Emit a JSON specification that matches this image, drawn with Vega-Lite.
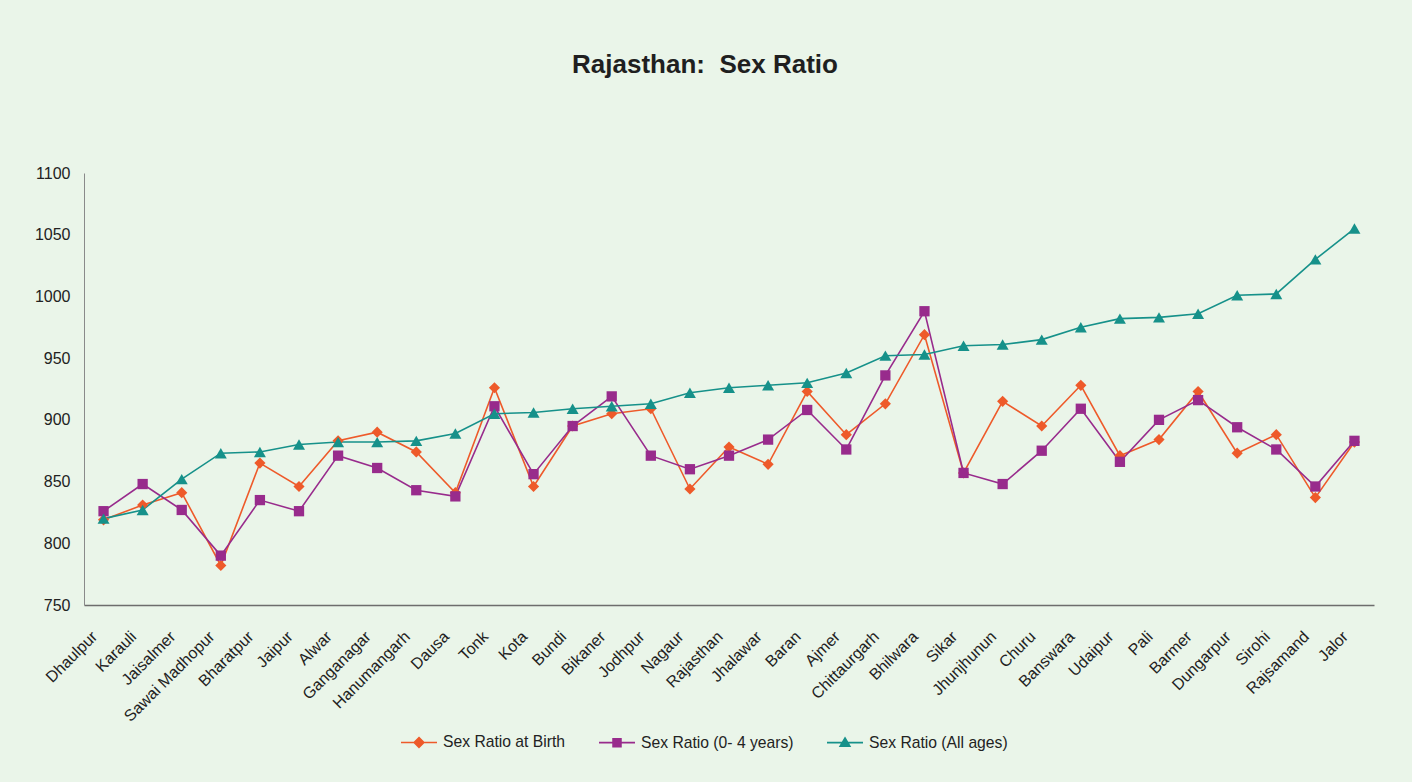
{
  "$schema": "https://vega.github.io/schema/vega-lite/v6.json",
  "width": 1290,
  "height": 432,
  "autosize": "none",
  "padding": {"left": 84, "top": 173, "right": 38, "bottom": 177},
  "background": "#EAF5E9",
  "config": {"view": {"stroke": null}, "font": "Liberation Sans"},
  "title": {
    "text": "Rajasthan:\u00a0 Sex Ratio",
    "fontSize": 26,
    "font": "Liberation Sans",
    "fontWeight": "bold",
    "color": "#1f1f1f",
    "anchor": "middle",
    "dx": -24,
    "offset": 66,
    "baseline": "alphabetic"
  },
  "data": {
    "values": [
      {"district": "Dhaulpur", "Sex Ratio at Birth": 819, "Sex Ratio (0- 4 years)": 826, "Sex Ratio (All ages)": 820},
      {"district": "Karauli", "Sex Ratio at Birth": 831, "Sex Ratio (0- 4 years)": 848, "Sex Ratio (All ages)": 827},
      {"district": "Jaisalmer", "Sex Ratio at Birth": 841, "Sex Ratio (0- 4 years)": 827, "Sex Ratio (All ages)": 852},
      {"district": "Sawai Madhopur", "Sex Ratio at Birth": 782, "Sex Ratio (0- 4 years)": 790, "Sex Ratio (All ages)": 873},
      {"district": "Bharatpur", "Sex Ratio at Birth": 865, "Sex Ratio (0- 4 years)": 835, "Sex Ratio (All ages)": 874},
      {"district": "Jaipur", "Sex Ratio at Birth": 846, "Sex Ratio (0- 4 years)": 826, "Sex Ratio (All ages)": 880},
      {"district": "Alwar", "Sex Ratio at Birth": 883, "Sex Ratio (0- 4 years)": 871, "Sex Ratio (All ages)": 882},
      {"district": "Ganganagar", "Sex Ratio at Birth": 890, "Sex Ratio (0- 4 years)": 861, "Sex Ratio (All ages)": 882},
      {"district": "Hanumangarh", "Sex Ratio at Birth": 874, "Sex Ratio (0- 4 years)": 843, "Sex Ratio (All ages)": 883},
      {"district": "Dausa", "Sex Ratio at Birth": 841, "Sex Ratio (0- 4 years)": 838, "Sex Ratio (All ages)": 889},
      {"district": "Tonk", "Sex Ratio at Birth": 926, "Sex Ratio (0- 4 years)": 911, "Sex Ratio (All ages)": 905},
      {"district": "Kota", "Sex Ratio at Birth": 846, "Sex Ratio (0- 4 years)": 856, "Sex Ratio (All ages)": 906},
      {"district": "Bundi", "Sex Ratio at Birth": 895, "Sex Ratio (0- 4 years)": 895, "Sex Ratio (All ages)": 909},
      {"district": "Bikaner", "Sex Ratio at Birth": 905, "Sex Ratio (0- 4 years)": 919, "Sex Ratio (All ages)": 911},
      {"district": "Jodhpur", "Sex Ratio at Birth": 909, "Sex Ratio (0- 4 years)": 871, "Sex Ratio (All ages)": 913},
      {"district": "Nagaur", "Sex Ratio at Birth": 844, "Sex Ratio (0- 4 years)": 860, "Sex Ratio (All ages)": 922},
      {"district": "Rajasthan", "Sex Ratio at Birth": 878, "Sex Ratio (0- 4 years)": 871, "Sex Ratio (All ages)": 926},
      {"district": "Jhalawar", "Sex Ratio at Birth": 864, "Sex Ratio (0- 4 years)": 884, "Sex Ratio (All ages)": 928},
      {"district": "Baran", "Sex Ratio at Birth": 923, "Sex Ratio (0- 4 years)": 908, "Sex Ratio (All ages)": 930},
      {"district": "Ajmer", "Sex Ratio at Birth": 888, "Sex Ratio (0- 4 years)": 876, "Sex Ratio (All ages)": 938},
      {"district": "Chittaurgarh", "Sex Ratio at Birth": 913, "Sex Ratio (0- 4 years)": 936, "Sex Ratio (All ages)": 952},
      {"district": "Bhilwara", "Sex Ratio at Birth": 969, "Sex Ratio (0- 4 years)": 988, "Sex Ratio (All ages)": 953},
      {"district": "Sikar", "Sex Ratio at Birth": 857, "Sex Ratio (0- 4 years)": 857, "Sex Ratio (All ages)": 960},
      {"district": "Jhunjhunun", "Sex Ratio at Birth": 915, "Sex Ratio (0- 4 years)": 848, "Sex Ratio (All ages)": 961},
      {"district": "Churu", "Sex Ratio at Birth": 895, "Sex Ratio (0- 4 years)": 875, "Sex Ratio (All ages)": 965},
      {"district": "Banswara", "Sex Ratio at Birth": 928, "Sex Ratio (0- 4 years)": 909, "Sex Ratio (All ages)": 975},
      {"district": "Udaipur", "Sex Ratio at Birth": 871, "Sex Ratio (0- 4 years)": 866, "Sex Ratio (All ages)": 982},
      {"district": "Pali", "Sex Ratio at Birth": 884, "Sex Ratio (0- 4 years)": 900, "Sex Ratio (All ages)": 983},
      {"district": "Barmer", "Sex Ratio at Birth": 923, "Sex Ratio (0- 4 years)": 916, "Sex Ratio (All ages)": 986},
      {"district": "Dungarpur", "Sex Ratio at Birth": 873, "Sex Ratio (0- 4 years)": 894, "Sex Ratio (All ages)": 1001},
      {"district": "Sirohi", "Sex Ratio at Birth": 888, "Sex Ratio (0- 4 years)": 876, "Sex Ratio (All ages)": 1002},
      {"district": "Rajsamand", "Sex Ratio at Birth": 837, "Sex Ratio (0- 4 years)": 846, "Sex Ratio (All ages)": 1030},
      {"district": "Jalor", "Sex Ratio at Birth": 882, "Sex Ratio (0- 4 years)": 883, "Sex Ratio (All ages)": 1055}
    ]
  },
  "transform": [
    {"fold": ["Sex Ratio at Birth", "Sex Ratio (0- 4 years)", "Sex Ratio (All ages)"], "as": ["series", "value"]}
  ],
  "encoding": {
    "x": {
      "field": "district",
      "type": "nominal",
      "sort": null,
      "scale": {"paddingInner": 0, "paddingOuter": 0},
      "axis": {
        "title": null,
        "labelAngle": -45,
        "labelFont": "Liberation Sans",
        "labelFontSize": 16,
        "labelColor": "#222222",
        "ticks": false,
        "labelPadding": 23,
        "labelOffset": -15,
        "domainColor": "#6d6d6d",
        "domainWidth": 1.5
      }
    },
    "y": {
      "field": "value",
      "type": "quantitative",
      "scale": {"domain": [750, 1100], "nice": false, "zero": false},
      "axis": {
        "title": null,
        "values": [750, 800, 850, 900, 950, 1000, 1050, 1100],
        "format": "d",
        "grid": false,
        "ticks": false,
        "labelFont": "Liberation Sans",
        "labelFontSize": 16,
        "labelColor": "#222222",
        "labelPadding": 14,
        "domainColor": "#8a8a8a",
        "domainWidth": 1
      }
    },
    "color": {
      "field": "series",
      "type": "nominal",
      "scale": {
        "domain": ["Sex Ratio at Birth", "Sex Ratio (0- 4 years)", "Sex Ratio (All ages)"],
        "range": ["#EE5A2A", "#982B8C", "#16918A"]
      },
      "legend": {
        "orient": "none",
        "legendX": 316,
        "legendY": 550,
        "direction": "horizontal",
        "title": null,
        "symbolSize": 1296,
        "symbolStrokeWidth": 1.6,
        "labelFont": "Liberation Sans",
        "labelFontSize": 15.7,
        "labelColor": "#222222",
        "labelOffset": 5,
        "columnPadding": 29,
        "encode": {
          "symbols": {
            "update": {
              "shape": {"signal": "datum.value === 'Sex Ratio at Birth' ? 'M-1,0H1M0,-0.27L0.27,0L0,0.27L-0.27,0Z' : datum.value === 'Sex Ratio (0- 4 years)' ? 'M-1,0H1M-0.22,-0.22H0.22V0.22H-0.22Z' : 'M-1,0H1M0,-0.26L0.27,0.2H-0.27Z'"},
              "fill": {"scale": "color", "field": "value"},
              "stroke": {"scale": "color", "field": "value"},
              "fillOpacity": {"value": 1},
              "opacity": {"value": 1}
            }
          }
        }
      }
    }
  },
  "layer": [
    {
      "mark": {"type": "line", "strokeWidth": 1.6}
    },
    {
      "transform": [{"filter": {"field": "series", "equal": "Sex Ratio at Birth"}}],
      "mark": {"type": "point", "filled": true, "opacity": 1, "shape": "diamond", "size": 125}
    },
    {
      "transform": [{"filter": {"field": "series", "equal": "Sex Ratio (0- 4 years)"}}],
      "mark": {"type": "point", "filled": true, "opacity": 1, "shape": "square", "size": 106}
    },
    {
      "transform": [{"filter": {"field": "series", "equal": "Sex Ratio (All ages)"}}],
      "mark": {"type": "point", "filled": true, "opacity": 1, "shape": "triangle-up", "size": 144}
    }
  ]
}
